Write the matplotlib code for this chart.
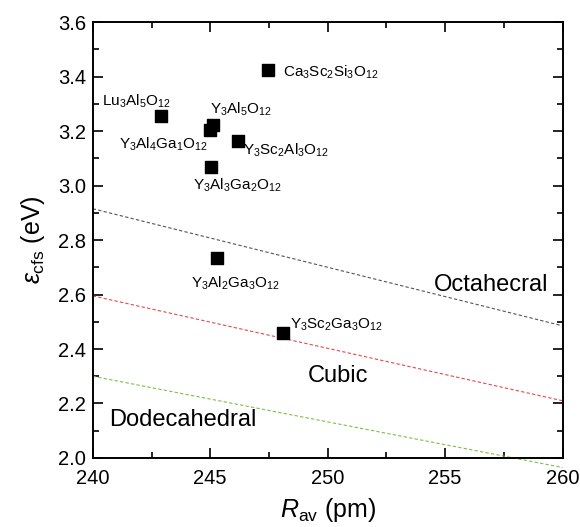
import numpy as np
import matplotlib.pyplot as plt
from matplotlib.ticker import MultipleLocator

plt.rcParams['font.family'] = ['Liberation Sans', 'DejaVu Sans']
plt.rcParams['mathtext.fontset'] = 'custom'
plt.rcParams['mathtext.rm'] = 'Liberation Sans'
plt.rcParams['mathtext.it'] = 'Liberation Sans:italic'

# ---------------------------------------------
# DATA
# ---------------------------------------------

compounds = [
    "Ca$_3$Sc$_2$Si$_3$O$_{12}$",
    "Lu$_3$Al$_5$O$_{12}$",
    "Y$_3$Al$_5$O$_{12}$",
    "Y$_3$Al$_4$Ga$_1$O$_{12}$",
    "Y$_3$Sc$_2$Al$_3$O$_{12}$",
    "Y$_3$Al$_3$Ga$_2$O$_{12}$",
    "Y$_3$Al$_2$Ga$_3$O$_{12}$",
    "Y$_3$Sc$_2$Ga$_3$O$_{12}$",
]
r_av = [247.45, 242.9, 245.1, 245.0, 246.2, 245.05, 245.3, 248.1]
e_cfs = [3.425, 3.255, 3.222, 3.205, 3.165, 3.07, 2.735, 2.458]

# label anchor points (data coords)
label_x = [248.1, 240.4, 245.0, 244.9, 246.4, 244.25, 244.2, 248.4]
label_y = [3.415, 3.31, 3.28, 3.15, 3.13, 3.0, 2.64, 2.49]
label_ha = ["left", "left", "left", "right", "left", "left", "left", "left"]

# boundary lines
line_r = [240, 260]
octa = [2.915, 2.485]
cubic = [2.595, 2.21]
dodeca = [2.30, 1.965]

# ---------------------------------------------
# PLOT
# ---------------------------------------------

fig = plt.figure(figsize=(5.8, 5.27), dpi=100)
ax = fig.add_axes([0.16, 0.131, 0.81, 0.827])

ax.plot(line_r, octa, "--", color="#555555", lw=0.8, dashes=(3, 2))
ax.plot(line_r, cubic, "--", color="#e8474a", lw=0.8, dashes=(3, 2))
ax.plot(line_r, dodeca, "--", color="#7cc043", lw=0.8, dashes=(3, 2), clip_on=False)

ax.scatter(r_av, e_cfs, marker="s", s=70, color="black", zorder=3)

for name, x, y, ha in zip(compounds, label_x, label_y, label_ha):
    ax.text(x, y, name, fontsize=11, ha=ha, va="center")

ax.text(254.5, 2.635, "Octahecral", fontsize=17, va="center")
ax.text(249.15, 2.30, "Cubic", fontsize=17, va="center")
ax.text(240.7, 2.14, "Dodecahedral", fontsize=17, va="center")

ax.set_xlim(240, 260)
ax.set_ylim(2.0, 3.6)
ax.xaxis.set_major_locator(MultipleLocator(5))
ax.xaxis.set_minor_locator(MultipleLocator(2.5))
ax.yaxis.set_major_locator(MultipleLocator(0.2))
ax.yaxis.set_minor_locator(MultipleLocator(0.1))
ax.yaxis.set_major_formatter(plt.FormatStrFormatter("%.1f"))

ax.tick_params(which="both", direction="in", top=True, right=True, labelsize=14.5, width=1.2)
ax.tick_params(which="major", length=7)
ax.tick_params(which="minor", length=4)
ax.tick_params(axis="x", which="major", pad=8)
ax.tick_params(axis="y", which="major", pad=5)
for s in ax.spines.values():
    s.set_linewidth(1.4)

ax.set_xlabel("$R_{\\rm av}$ (pm)", fontsize=18, labelpad=6)
ax.set_ylabel("$\\varepsilon_{\\rm cfs}$ (eV)", fontsize=18, labelpad=8)

fig.savefig("out.png", dpi=100)
